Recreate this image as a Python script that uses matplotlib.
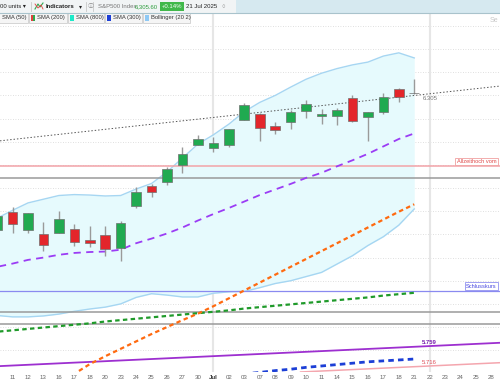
import matplotlib.pyplot as plt
from matplotlib.patches import Rectangle
from matplotlib.lines import Line2D

plt.rcParams['font.family'] = ['Liberation Sans', 'DejaVu Sans']

# x axis: trading days, index 0 = 11 Jun 2025
day_labels = ['11', '12', '13', '16', '17', '18', '20', '23', '24', '25', '26', '27', '30',
              'Jul', '02', '03', '07', '08', '09', '10', '11', '14', '15', '16', '17', '18',
              '21', '22', '23', '24', '25', '28']

# candles 10 Jun .. 21 Jul (index -1 .. 26)
candle_idx = list(range(-1, 27))
opens = [6009.9, 6049.4, 6009.9, 6000.6, 6004.0, 6012.2, 5987.9, 5999.7, 5969.7, 6061.2,
         6104.2, 6112.1, 6150.7, 6193.4, 6187.3, 6193.1, 6246.7, 6259.8, 6233.0, 6243.0,
         6266.3, 6255.0, 6255.9, 6295.3, 6252.5, 6264.6, 6314.1, 6304.7]
highs = [6043.0, 6059.4, 6045.4, 6026.2, 6050.8, 6023.3, 6018.2, 6018.3, 6028.2, 6101.8,
         6108.5, 6146.5, 6187.7, 6215.1, 6210.8, 6227.6, 6284.7, 6262.3, 6242.6, 6269.2,
         6290.2, 6269.8, 6273.3, 6302.0, 6264.6, 6304.3, 6315.6, 6336.1]
lows = [6000.3, 6002.3, 6003.9, 5963.2, 6004.0, 5974.8, 5971.9, 5952.6, 5943.2, 6056.6,
        6080.9, 6107.3, 6132.4, 6193.4, 6178.0, 6188.3, 6246.7, 6201.0, 6217.1, 6228.6,
        6251.0, 6237.4, 6236.5, 6241.8, 6201.6, 6259.5, 6285.3, 6303.8]
closes = [6038.8, 6022.2, 6045.3, 5977.0, 6033.1, 5982.7, 5980.9, 5967.8, 6025.2, 6092.2,
          6092.2, 6141.0, 6173.1, 6205.0, 6198.0, 6227.4, 6279.4, 6230.0, 6225.5, 6263.3,
          6280.5, 6259.8, 6268.6, 6243.8, 6263.7, 6297.4, 6296.8, 6305.6]

# Bollinger (20 2)
bb_upper = [6035, 6052, 6068, 6076, 6084, 6086, 6085, 6083, 6084, 6098, 6110, 6135, 6165, 6195,
            6215, 6238, 6265, 6285, 6300, 6318, 6335, 6348, 6358, 6366, 6372, 6385, 6392, 6381]
bb_mid = [5930, 5937, 5945, 5950, 5956, 5960, 5962, 5963, 5967, 5981, 5991, 6002, 6015, 6030,
          6044, 6057, 6071, 6085, 6097, 6109, 6122, 6133, 6147, 6160, 6174, 6190, 6206, 6218]
bb_lower = [5825, 5822, 5822, 5824, 5828, 5834, 5839, 5843, 5850, 5864, 5872, 5869, 5865, 5865,
            5873, 5876, 5877, 5885, 5894, 5900, 5909, 5918, 5936, 5954, 5976, 5995, 6020, 6055]

# moving averages
ma_orange = [5580, 5604, 5628, 5652, 5676, 5699, 5720, 5737, 5753, 5769, 5785, 5800, 5815, 5829,
             5845, 5862, 5879, 5896, 5913, 5930, 5947, 5964, 5981, 5998, 6015, 6032, 6049, 6065]
ma_green = [5790, 5793, 5796, 5799, 5802, 5805, 5808, 5812, 5815, 5818, 5821, 5824, 5827, 5830,
            5833, 5836, 5840, 5843, 5846, 5849, 5852, 5855, 5858, 5861, 5864, 5868, 5871, 5874]
ma_blue = [5650, 5653, 5656, 5659, 5662, 5665, 5668, 5671, 5674, 5677, 5680, 5683, 5686, 5689,
           5692, 5695, 5699, 5702, 5706, 5709, 5713, 5716, 5719, 5722, 5725, 5727, 5729, 5731]

# horizontal levels
ath_level = 6147.4
gray_levels = [6122, 5833, 5807]
close_level = 5878

# trend lines (index, price) pairs
trend_dotted = [(0, 6205), (26, 6300)]
trend_purple = [(0, 5717), (27, 5759)]
trend_pink = [(0, 5674), (27, 5716)]

fig = plt.figure(figsize=(5, 3.83), dpi=100)
ax = fig.add_axes([0, 11 / 383, 1, 359 / 383])
ax.set_xlim(-0.81, 31.55)
ax.set_ylim(5703, 6478)
for s in ax.spines.values():
    s.set_visible(False)
ax.set_yticks([])

# grid
for lv in range(5750, 6451, 50):
    ax.axhline(lv, color='#d5d5d5', lw=0.6, ls=(0, (1, 2)), zorder=0)
ax.axvline(13, color='#e6e6e6', lw=1.5, zorder=0)
ax.axvline(27, color='#e6e6e6', lw=1.5, zorder=0)

# bollinger band
ax.fill_between(candle_idx, bb_lower, bb_upper, color='#e6fafd', zorder=1, lw=0)
ax.plot(candle_idx, bb_upper, color='#a6d6f2', lw=1, zorder=2)
ax.plot(candle_idx, bb_lower, color='#a6d6f2', lw=1, zorder=2)

# levels
ax.axhline(ath_level, color='#f2a3a8', lw=1.1, zorder=2)
for lv in gray_levels:
    ax.axhline(lv, color='#9a9a9a', lw=1.1, zorder=2)
ax.axhline(close_level, color='#8a8af0', lw=0.9, zorder=2)

# trend lines
ax.axline(*trend_dotted, color='#555555', lw=0.7, ls=(0, (1.5, 2)), zorder=3)
ax.axline(*trend_purple, color='#9d2fd0', lw=1.3, zorder=3)
ax.axline(*trend_pink, color='#f4a6ae', lw=1.1, zorder=3)

# moving averages
ax.plot(candle_idx, ma_green, color='#1f9a2a', lw=1.6, ls=(0, (2, 1.5)), zorder=3)
ax.plot(candle_idx, ma_blue, color='#1c3fd6', lw=2, ls=(0, (2, 1.5)), zorder=3)
ax.plot(candle_idx, ma_orange, color='#ff6a10', lw=1.6, ls=(0, (2, 1.5)), zorder=3)
ax.plot(candle_idx, bb_mid, color='#9b3cf5', lw=1.3, ls=(0, (4, 3)), zorder=3)

# candles
ax.vlines(candle_idx, lows, highs, color='#9a9a9a', lw=1, zorder=4)
body_bottom = [min(o, c) for o, c in zip(opens, closes)]
body_height = [max(abs(c - o), 1.5) for o, c in zip(opens, closes)]
body_color = ['#20aa50' if c >= o else '#e3262b' for o, c in zip(opens, closes)]
body_color[-1] = '#9a9a9a'
ax.bar(candle_idx, body_height, bottom=body_bottom, width=0.62, color=body_color,
       edgecolor='#6f6f6f', lw=0.5, zorder=5)

# value labels
ax.annotate('6.305', (27, closes[-1]), xytext=(0, -2), textcoords='offset points',
            ha='center', va='top', fontsize=4.3, color='#777777')
ax.annotate('5.759', (27, trend_purple[1][1]), xytext=(0, 0.8), textcoords='offset points',
            ha='center', va='bottom', fontsize=4.3, color='#7a1fb0', fontweight='bold')
ax.annotate('5.716', (27, trend_pink[1][1]), xytext=(0, 0.8), textcoords='offset points',
            ha='center', va='bottom', fontsize=4.3, color='#e0505a')
ax.annotate('Allzeithoch vom', (28.75, ath_level), xytext=(0, 1.5),
            textcoords='offset points', ha='left', va='bottom', fontsize=4.1, color='#e04848',
            bbox=dict(boxstyle='square,pad=0.25', fc='white', ec='#f0a0a0', lw=0.6))
ax.annotate('Schlusskurs', (29.35, close_level), xytext=(0, 1.5),
            textcoords='offset points', ha='left', va='bottom', fontsize=4.1, color='#4848e0',
            bbox=dict(boxstyle='square,pad=0.25', fc='white', ec='#9090f0', lw=0.6))

# x axis
ax.set_xticks(range(len(day_labels)))
ax.set_xticklabels(day_labels, fontsize=4.4, color='#666666')
ax.tick_params(axis='x', length=0, pad=2.5)
ax.get_xticklabels()[13].set_fontweight('bold')
ax.get_xticklabels()[13].set_color('#333333')


def fx(px):
    return px / 500


def fy(py):
    return 1 - py / 383


# toolbar
fig.patches.append(Rectangle((0, fy(13)), 1, 13 / 383, transform=fig.transFigure,
                             fc='#d6e9f0', ec='none', zorder=0))
fig.patches.append(Rectangle((0, fy(13)), fx(236), 13 / 383, transform=fig.transFigure,
                             fc='#f1f4f5', ec='none', zorder=0))
fig.lines.append(Line2D([0, 1], [fy(13), fy(13)], transform=fig.transFigure,
                        color='#a9c3cc', lw=0.8))
for sx in [31, 86, 93]:
    fig.lines.append(Line2D([fx(sx), fx(sx)], [fy(2), fy(11)], transform=fig.transFigure,
                            color='#c8c8c8', lw=0.6))
fig.lines.append(Line2D([fx(35), fx(38), fx(40), fx(43)], [fy(9), fy(4), fy(7), fy(3)],
                        transform=fig.transFigure, color='#2fa84f', lw=0.8))
fig.lines.append(Line2D([fx(35), fx(38), fx(41), fx(43)], [fy(4), fy(8), fy(5), fy(9)],
                        transform=fig.transFigure, color='#e04040', lw=0.6))
ty = fy(6.5)
fig.text(fx(0), ty, '00 units \u25be', fontsize=4.3, color='#222222', va='center')
fig.text(fx(46), ty, 'Indicators', fontsize=4.3, color='#222222', va='center',
         fontweight='bold')
fig.text(fx(79), ty, '\u25be', fontsize=4.3, color='#222222', va='center')
fig.text(fx(88), ty, '\u24d8', fontsize=4.3, color='#888888', va='center',
         family=['Noto Sans CJK SC', 'DejaVu Sans'])
fig.text(fx(98), ty, 'S&P500 Index', fontsize=4.3, color='#777777', va='center')
fig.text(fx(135), ty, '6,305.60', fontsize=4.3, color='#2e9e3e', va='center')
fig.text(fx(162), ty, '+0.14%', fontsize=4.3, color='white', va='center',
         bbox=dict(boxstyle='square,pad=0.3', fc='#40b84a', ec='none'))
fig.text(fx(186), ty, '21 Jul 2025', fontsize=4.3, color='#222222', va='center')
fig.text(fx(222), ty, '\u25cb', fontsize=4.3, color='#888888', va='center')
fig.text(fx(490), fy(20), 'Se', fontsize=5, color='#c8c8c8', va='center')

# indicator legend row
legend_items = [('SMA (50)', ['#8a8a8a'], -6, 28),
                ('SMA (200)', ['#e04040', '#2fa84f'], 29, 67),
                ('SMA (800)', ['#1de9c8'], 68, 104),
                ('SMA (300)', ['#1c3fd6'], 105, 142),
                ('Bollinger (20 2)', ['#8ec9f5'], 143, 190)]
for name, cols, x0, x1 in legend_items:
    fig.patches.append(Rectangle((fx(x0), fy(23)), fx(x1 - x0), 10 / 383,
                                 transform=fig.transFigure, fc='#f5f5f5', ec='#cfcfcf',
                                 lw=0.6, zorder=1))
    iw = 4 / len(cols)
    for k, c in enumerate(cols):
        fig.patches.append(Rectangle((fx(x0 + 2 + k * iw), fy(21)), fx(iw), 6 / 383,
                                     transform=fig.transFigure, fc=c, ec='none', zorder=2))
    fig.text(fx(x0 + 8), fy(18), name, fontsize=4.2, color='#333333', va='center', zorder=3)

fig.savefig('out.png', dpi=100)
